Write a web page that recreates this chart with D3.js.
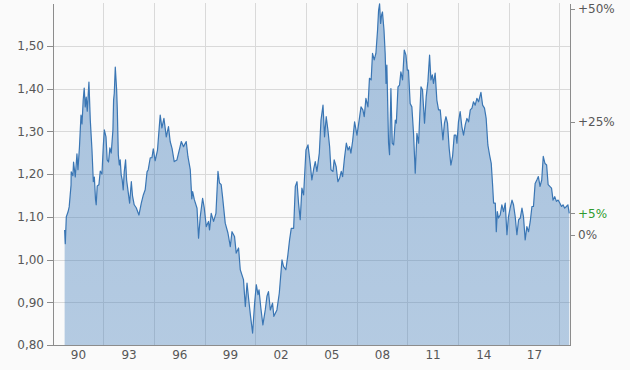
<!DOCTYPE html>
<html>
<head>
<meta charset="utf-8">
<script src="https://cdnjs.cloudflare.com/ajax/libs/d3/7.8.5/d3.min.js"></script>
<style>
  html, body { margin: 0; padding: 0; background: #fafafa; }
  svg { display: block; font-family: "DejaVu Sans", Verdana, sans-serif; }
  .axis path, .axis line { stroke: #8c8c8c; shape-rendering: crispEdges; }
  .axis text { fill: #575757; font-size: 12px; font-family: "DejaVu Sans", Verdana, sans-serif; }
  .axis .last text { fill: #2f9a2f; }
  .grid line { stroke: #d9d9d9; shape-rendering: crispEdges; }
</style>
</head>
<body>
<div id="chart"></div>
<script>
// monthly-ish EUR/USD closes, decimal years
var years = [
  1989.71, 1989.75, 1989.81, 1989.91, 1989.98, 1990.09, 1990.10, 1990.20, 1990.24, 1990.34,
  1990.44, 1990.50, 1990.59, 1990.68, 1990.74, 1990.81, 1990.87, 1990.93, 1990.99, 1991.05,
  1991.15, 1991.23, 1991.33, 1991.41, 1991.47, 1991.54, 1991.58, 1991.64, 1991.74, 1991.82,
  1991.92, 1992.00, 1992.06, 1992.16, 1992.23, 1992.31, 1992.39, 1992.47, 1992.57, 1992.61,
  1992.65, 1992.71, 1992.79, 1992.83, 1992.89, 1992.95, 1993.00, 1993.06, 1993.12, 1993.18,
  1993.24, 1993.32, 1993.38, 1993.48, 1993.56, 1993.66, 1993.73, 1993.83, 1993.95, 1994.11,
  1994.25, 1994.37, 1994.48, 1994.59, 1994.66, 1994.78, 1994.88, 1994.96, 1995.07, 1995.21,
  1995.31, 1995.37, 1995.47, 1995.59, 1995.73, 1995.86, 1995.96, 1996.07, 1996.20, 1996.36,
  1996.62, 1996.75, 1996.91, 1997.01, 1997.15, 1997.24, 1997.29, 1997.39, 1997.55, 1997.64,
  1997.74, 1997.88, 1997.98, 1998.10, 1998.23, 1998.29, 1998.39, 1998.53, 1998.67, 1998.79,
  1998.88, 1998.98, 1999.06, 1999.22, 1999.38, 1999.52, 1999.62, 1999.77, 1999.87, 2000.01,
  2000.11, 2000.30, 2000.41, 2000.51, 2000.60, 2000.72, 2000.84, 2000.96, 2001.06, 2001.16,
  2001.22, 2001.33, 2001.45, 2001.59, 2001.69, 2001.78, 2001.89, 2002.02, 2002.10, 2002.28,
  2002.42, 2002.58, 2002.67, 2002.81, 2002.93, 2003.03, 2003.13, 2003.27, 2003.37, 2003.47,
  2003.56, 2003.66, 2003.76, 2003.86, 2004.00, 2004.12, 2004.25, 2004.35, 2004.45, 2004.55,
  2004.65, 2004.79, 2004.89, 2005.01, 2005.10, 2005.20, 2005.30, 2005.40, 2005.48, 2005.60,
  2005.67, 2005.79, 2005.89, 2005.99, 2006.09, 2006.17, 2006.28, 2006.39, 2006.49, 2006.58,
  2006.66, 2006.76, 2006.88, 2007.02, 2007.11, 2007.26, 2007.37, 2007.45, 2007.55, 2007.67,
  2007.76, 2007.86, 2007.94, 2008.04, 2008.14, 2008.24, 2008.30, 2008.36, 2008.42, 2008.48,
  2008.53, 2008.62, 2008.69, 2008.74, 2008.79, 2008.89, 2008.95, 2009.03, 2009.11, 2009.19,
  2009.29, 2009.35, 2009.45, 2009.54, 2009.62, 2009.72, 2009.82, 2009.92, 2010.00, 2010.07,
  2010.17, 2010.27, 2010.37, 2010.47, 2010.57, 2010.67, 2010.81, 2010.90, 2011.02, 2011.12,
  2011.22, 2011.32, 2011.40, 2011.48, 2011.55, 2011.65, 2011.75, 2011.85, 2011.95, 2012.05,
  2012.11, 2012.20, 2012.29, 2012.38, 2012.48, 2012.58, 2012.68, 2012.78, 2012.88, 2012.94,
  2013.03, 2013.13, 2013.23, 2013.33, 2013.43, 2013.53, 2013.63, 2013.73, 2013.83, 2013.92,
  2014.02, 2014.12, 2014.22, 2014.36, 2014.46, 2014.57, 2014.67, 2014.77, 2014.87, 2014.97,
  2015.05, 2015.11, 2015.21, 2015.27, 2015.33, 2015.40, 2015.50, 2015.60, 2015.70, 2015.80,
  2015.90, 2015.99, 2016.09, 2016.20, 2016.29, 2016.39, 2016.49, 2016.59, 2016.69, 2016.79,
  2016.88, 2016.98, 2017.08, 2017.18, 2017.28, 2017.38, 2017.47, 2017.57, 2017.67, 2017.76,
  2017.86, 2017.96, 2018.05, 2018.15, 2018.25, 2018.34, 2018.44, 2018.54, 2018.63, 2018.73,
  2018.83, 2018.93, 2019.03, 2019.13, 2019.22, 2019.32, 2019.42, 2019.51, 2019.59
];
var rates = [
  1.069, 1.037, 1.100, 1.111, 1.123, 1.174, 1.205, 1.196, 1.228, 1.193,
  1.247, 1.210, 1.264, 1.338, 1.317, 1.373, 1.401, 1.357, 1.380, 1.347,
  1.415, 1.326, 1.256, 1.182, 1.193, 1.140, 1.128, 1.172, 1.175, 1.207,
  1.200, 1.265, 1.303, 1.287, 1.233, 1.228, 1.261, 1.249, 1.303, 1.373,
  1.389, 1.450, 1.397, 1.350, 1.245, 1.221, 1.233, 1.198, 1.186, 1.163,
  1.205, 1.233, 1.186, 1.156, 1.132, 1.182, 1.149, 1.128, 1.121, 1.104,
  1.132, 1.151, 1.163, 1.205, 1.210, 1.238, 1.238, 1.259, 1.231, 1.256,
  1.308, 1.338, 1.308, 1.330, 1.287, 1.311, 1.276, 1.260, 1.229, 1.233,
  1.276, 1.264, 1.276, 1.241, 1.210, 1.142, 1.159, 1.140, 1.120, 1.050,
  1.100, 1.143, 1.120, 1.077, 1.089, 1.069, 1.108, 1.089, 1.108, 1.206,
  1.179, 1.175, 1.147, 1.085, 1.062, 1.030, 1.065, 1.054, 1.015, 1.027,
  0.976, 0.953, 0.890, 0.945, 0.910, 0.867, 0.828, 0.898, 0.941, 0.918,
  0.929, 0.886, 0.847, 0.882, 0.914, 0.925, 0.882, 0.898, 0.867, 0.882,
  0.921, 0.999, 0.984, 0.976, 1.011, 1.046, 1.073, 1.073, 1.171, 1.182,
  1.132, 1.093, 1.167, 1.151, 1.256, 1.268, 1.225, 1.186, 1.210, 1.229,
  1.206, 1.249, 1.326, 1.361, 1.287, 1.334, 1.303, 1.264, 1.210, 1.206,
  1.233, 1.217, 1.182, 1.190, 1.206, 1.194, 1.237, 1.272, 1.256, 1.264,
  1.249, 1.276, 1.322, 1.291, 1.315, 1.357, 1.350, 1.334, 1.377, 1.357,
  1.424, 1.420, 1.482, 1.467, 1.482, 1.537, 1.583, 1.598, 1.552, 1.572,
  1.579, 1.537, 1.482, 1.412, 1.455, 1.272, 1.245, 1.400, 1.272, 1.268,
  1.326, 1.319, 1.404, 1.408, 1.439, 1.420, 1.490, 1.478, 1.443, 1.443,
  1.365, 1.357, 1.295, 1.202, 1.295, 1.272, 1.404, 1.397, 1.319, 1.381,
  1.416, 1.478, 1.420, 1.432, 1.412, 1.436, 1.373, 1.350, 1.350, 1.307,
  1.280, 1.319, 1.334, 1.319, 1.260, 1.221, 1.241, 1.291, 1.291, 1.272,
  1.322, 1.346, 1.311, 1.291, 1.315, 1.330, 1.322, 1.350, 1.354, 1.369,
  1.361, 1.377, 1.369, 1.391, 1.361, 1.354, 1.330, 1.268, 1.245, 1.225,
  1.175, 1.132, 1.132, 1.065, 1.112, 1.097, 1.104, 1.128, 1.112, 1.132,
  1.058, 1.100, 1.120, 1.139, 1.128, 1.100, 1.058, 1.093, 1.097, 1.120,
  1.100, 1.046, 1.077, 1.065, 1.089, 1.124, 1.124, 1.178, 1.186, 1.194,
  1.171, 1.186, 1.241, 1.225, 1.221, 1.175, 1.171, 1.167, 1.139, 1.147,
  1.136, 1.139, 1.132, 1.124, 1.128, 1.120, 1.124, 1.128, 1.108
];

var xLabelYears = [1990.5, 1993.5, 1996.5, 1999.5, 2002.5, 2005.5, 2008.5, 2011.5, 2014.5, 2017.5];
var xLabels = ["90", "93", "96", "99", "02", "05", "08", "11", "14", "17"];
var gridYears = [1992, 1995, 1998, 2001, 2004, 2007, 2010, 2013, 2016, 2019];
var yTicks = [0.80, 0.90, 1.00, 1.10, 1.20, 1.30, 1.40, 1.50];
var pctTicks = [0, 0.25, 0.50];
var baseRate = 1.058;

var W = 630, H = 370,
  margin = {top: 3, right: 60, bottom: 25, left: 53},
  width = W - margin.left - margin.right,
  height = H - margin.top - margin.bottom;

var data = years.map(function(yr, i){ return {t: yr, v: rates[i]}; });
var last = data[data.length - 1];

var x = d3.scaleLinear().domain([1989.022, 2019.634]).range([0, width]);
var y = d3.scaleLinear().domain([0.80, 1.60]).range([height, 0]);

var comma = d3.formatLocale({decimal: ",", thousands: ".", grouping: [3], currency: ["", ""]}).format(".2f");

function pctLabel(p){
  var n = Math.round(p * 100);
  return (n > 0 ? "+" : "") + n + "%";
}

var svg = d3.select("#chart").append("svg")
  .attr("width", W)
  .attr("height", H);

var defs = svg.append("defs");
var grad = defs.append("linearGradient")
  .attr("id", "fillGrad")
  .attr("gradientUnits", "userSpaceOnUse")
  .attr("x1", 0).attr("y1", 0)
  .attr("x2", 0).attr("y2", height);
grad.append("stop").attr("offset", "0%").attr("stop-color", "rgb(66,125,186)").attr("stop-opacity", 0.45);
grad.append("stop").attr("offset", "100%").attr("stop-color", "rgb(66,125,186)").attr("stop-opacity", 0.38);

var g = svg.append("g")
  .attr("transform", "translate(" + margin.left + "," + margin.top + ")");

// grid
var grid = g.append("g").attr("class", "grid");
grid.selectAll("line.h")
  .data(yTicks.slice(1))
  .enter().append("line")
  .attr("class", "h")
  .attr("x1", 0).attr("x2", width)
  .attr("y1", function(d){ return Math.round(y(d)); })
  .attr("y2", function(d){ return Math.round(y(d)); });
grid.selectAll("line.v")
  .data(gridYears)
  .enter().append("line")
  .attr("class", "v")
  .attr("y1", 0).attr("y2", height)
  .attr("x1", function(d){ return Math.round(x(d)); })
  .attr("x2", function(d){ return Math.round(x(d)); });

// area + line
var area = d3.area()
  .x(function(d){ return x(d.t); })
  .y0(height)
  .y1(function(d){ return y(d.v); });
var line = d3.line()
  .x(function(d){ return x(d.t); })
  .y(function(d){ return y(d.v); });

g.append("path")
  .datum(data)
  .attr("d", area)
  .attr("fill", "url(#fillGrad)");
g.append("path")
  .datum(data)
  .attr("d", line)
  .attr("fill", "none")
  .attr("stroke", "#3a76b4")
  .attr("stroke-width", 1.2)
  .attr("stroke-linejoin", "round");

// axes
g.append("g")
  .attr("class", "axis")
  .call(d3.axisLeft(y).tickValues(yTicks).tickFormat(comma).tickSize(6).tickSizeOuter(0).tickPadding(3));

g.append("g")
  .attr("class", "axis")
  .attr("transform", "translate(0," + height + ")")
  .call(d3.axisBottom(x).tickValues(xLabelYears)
    .tickFormat(function(d, i){ return xLabels[i]; })
    .tickSize(0).tickSizeOuter(0).tickPadding(5));

var pctValues = pctTicks.map(function(p){ return baseRate * (1 + p); }).concat([last.v]);
var right = g.append("g")
  .attr("class", "axis")
  .attr("transform", "translate(" + width + ",0)")
  .call(d3.axisRight(y).tickValues(pctValues)
    .tickFormat(function(d){ return pctLabel(d / baseRate - 1); })
    .tickSize(5).tickSizeOuter(0).tickPadding(3));
right.selectAll(".tick")
  .classed("last", function(d){ return d === last.v; });
</script>
</body>
</html>
